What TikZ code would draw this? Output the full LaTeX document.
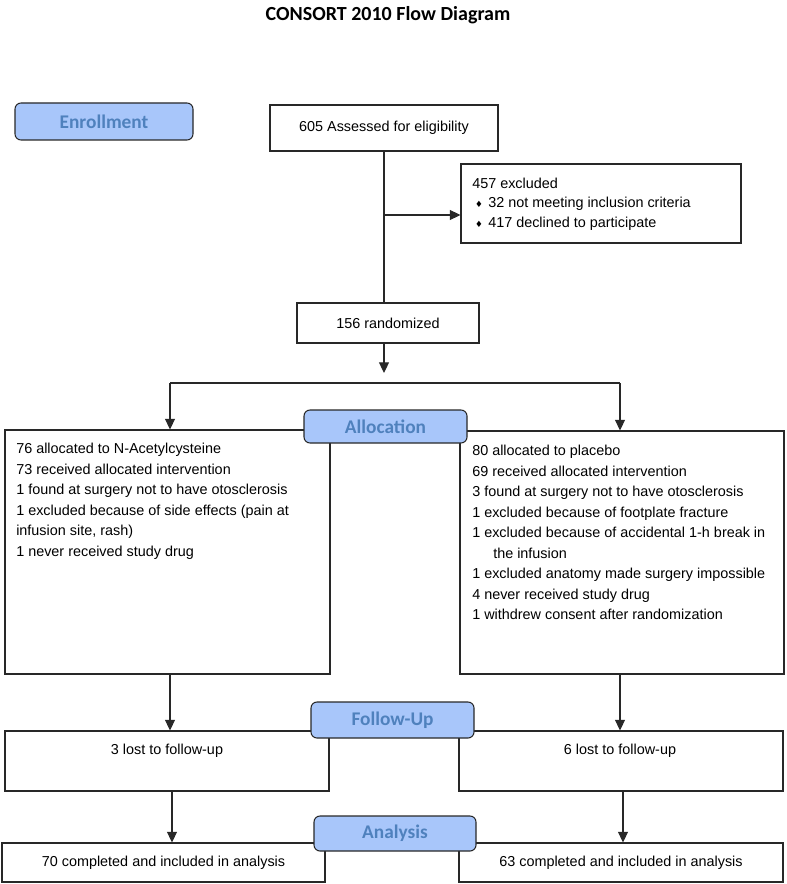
\documentclass[tikz,border=0pt]{standalone}
\usepackage{fontspec}
\setmainfont{Liberation Sans}
\newfontfamily\calib{Carlito}
\newfontfamily\djv{DejaVu Sans}
\usetikzlibrary{arrows.meta,fit,calc}
\definecolor{lblfill}{RGB}{168,198,250}
\definecolor{lbltext}{RGB}{79,129,189}
\definecolor{ln}{RGB}{40,40,40}
\newcommand\bul{\makebox[12pt][l]{\hspace{2.2pt}{\djv\fontsize{6.5}{6.5}\selectfont ♦}}}
\tikzset{
 box/.style={draw=ln, line width=0.8pt, fill=white, inner sep=0pt},
 lbl/.style={draw=ln, line width=0.8pt, fill=lblfill, rounded corners=4.5pt, inner sep=0pt},
 lbltxt/.style={inner sep=0pt, text=lbltext, font=\calib\bfseries\fontsize{14.5}{16}\selectfont},
 txt/.style={inner sep=0pt, align=left, anchor=north west, font=\fontsize{10.8}{15.4}\selectfont},
 plain/.style={inner sep=0pt, font=\fontsize{10.8}{13}\selectfont},
 arr/.style={draw=ln, line width=0.8pt, -{Triangle[length=8pt,width=7.5pt]}},
 conn/.style={draw=ln, line width=0.8pt},
}
\begin{document}
\begin{tikzpicture}[x=0.75pt,y=-0.75pt]
\useasboundingbox (0,0) rectangle (787,884);
\node[font=\calib\bfseries\fontsize{15}{18}\selectfont] (title) at (388,15) {CONSORT 2010 Flow Diagram};

\node[lbl, fit={(15,103)(193,140)}] (enr) {};
\node[lbltxt] (enrt) at (enr.center) {Enrollment};
\node[box, fit={(270,105)(498,151)}] (ass) {};
\node[plain] (asst) at (ass.center) {605 Assessed for eligibility};
\node[box, fit={(461,164)(741,243)}] (exc) {};
\node[txt, font=\fontsize{10.8}{14.6}\selectfont] (exct) at (472,177.5) {457 excluded\\\bul 32 not meeting inclusion criteria\\\bul 417 declined to participate};
\node[box, fit={(297,303)(479,343)}] (rnd) {};
\node[plain] (rndt) at (rnd.center) {156 randomized};

\coordinate (j1) at (384,215);
\coordinate (r1) at (384,373);
\coordinate (sl) at (170,383);
\coordinate (sr) at (620,383);
\coordinate (fl) at (170,0);
\coordinate (fr) at (620,0);
\coordinate (al) at (172,0);
\coordinate (ar) at (623,0);

\node[box, fit={(5,430)(330,674)}] (la) {};
\node[box, fit={(460,431)(784,674)}] (ra) {};
\node[txt] (lat) at (16,443) {76 allocated to N-Acetylcysteine\\73 received allocated intervention\\1 found at surgery not to have otosclerosis\\1 excluded because of side effects (pain at\\infusion site, rash)\\1 never received study drug};
\node[txt] (rat) at (472,445) {80 allocated to placebo\\69 received allocated intervention\\3 found at surgery not to have otosclerosis\\1 excluded because of footplate fracture\\1 excluded because of accidental 1-h break in\\\hspace*{15.75pt}the infusion\\1 excluded anatomy made surgery impossible\\4 never received study drug\\1 withdrew consent after randomization};
\node[lbl, fit={(304,410)(467,443)}] (alloc) {};
\node[lbltxt] (alloct) at (alloc.center) {Allocation};

\node[box, fit={(5,731)(329,791)}] (lf) {};
\node[box, fit={(459,731)(783,791)}] (rf) {};
\node[plain] (lft) at (167,751) {3 lost to follow-up};
\node[plain] (rft) at (620,751) {6 lost to follow-up};
\node[lbl, fit={(311,702)(474,738)}] (fu) {};
\node[lbltxt] (fut) at (fu.center) {Follow-Up};

\node[box, fit={(2,843)(325,882)}] (lan) {};
\node[plain] (lant) at (lan.center) {70 completed and included in analysis};
\node[box, fit={(459,843)(783,882)}] (ran) {};
\node[plain] (rant) at (ran.center) {63 completed and included in analysis};
\node[lbl, fit={(314,816)(476,851)}] (ana) {};
\node[lbltxt] (anat) at (ana.center) {Analysis};

\draw[conn] (ass.south) -- (ass.south |- rnd.north);
\draw[arr] (j1) -- (j1 -| exc.west);
\draw[arr] (r1 |- rnd.south) -- (r1);
\draw[conn] (sl) -- (sr);
\draw[arr] (sl) -- (sl |- la.north);
\draw[arr] (sr) -- (sr |- ra.north);
\draw[arr] (fl |- la.south) -- (fl |- lf.north);
\draw[arr] (fr |- ra.south) -- (fr |- rf.north);
\draw[arr] (al |- lf.south) -- (al |- lan.north);
\draw[arr] (ar |- rf.south) -- (ar |- ran.north);
\end{tikzpicture}
\end{document}
